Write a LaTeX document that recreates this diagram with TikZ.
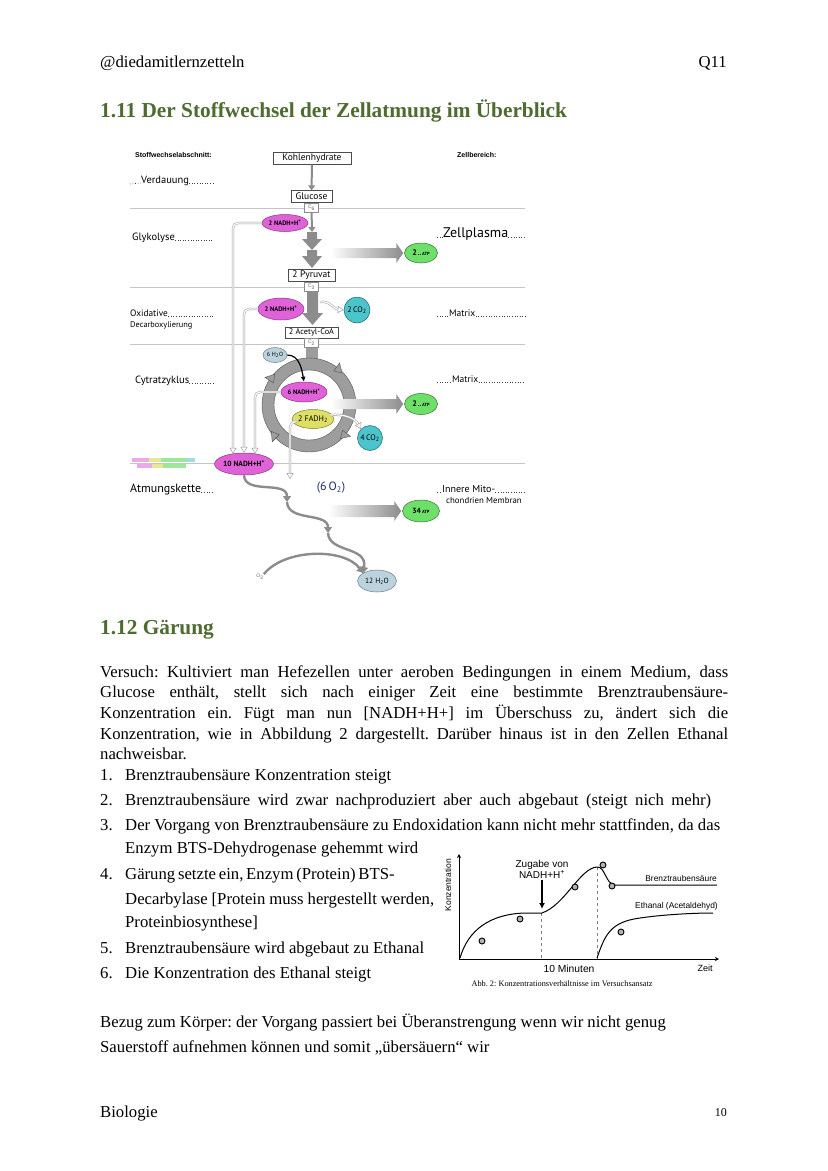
\documentclass[tikz,border=0pt]{standalone}
\usepackage{fontspec}
\setmainfont{Liberation Serif}
\newfontfamily\arialfont{Liberation Sans}
\newfontfamily\handfont{PT Sans}
\usepackage{xcolor}
\usetikzlibrary{positioning, shapes.geometric, arrows.meta, calc}
\definecolor{headgreen}{HTML}{4E6B30}
\definecolor{nadhpink}{HTML}{E062D8}
\definecolor{atpgreen}{HTML}{6EE06A}
\definecolor{cotwo}{HTML}{4CC4CC}
\definecolor{wasser}{HTML}{BBD3DE}
\definecolor{fadhgelb}{HTML}{DDE065}
\definecolor{flowgray}{HTML}{8C8C8C}
\definecolor{sepgray}{HTML}{C4C4C4}
\definecolor{sauerblau}{HTML}{1F2F66}
\frenchspacing

\tikzset{
  body/.style={anchor=base west, inner sep=0pt, font=\fontsize{16.7}{20}\selectfont},
  titel/.style={anchor=base west, inner sep=0pt, text=headgreen, font=\bfseries\fontsize{21.3}{24}\selectfont},
  stoffbox/.style={draw=black!70, fill=white, inner sep=1pt, minimum height=12pt, font=\handfont\fontsize{9.5}{10}\selectfont},
  cbox/.style={draw=black!45, fill=white, inner sep=0pt, minimum width=14pt, minimum height=9pt, font=\arialfont\fontsize{5}{5}\selectfont, text=black!60},
  blob/.style={ellipse, inner sep=0pt, line width=0.5pt, font=\handfont\bfseries\fontsize{6.5}{6.5}\selectfont},
  nadh/.style={blob, fill=nadhpink, draw=nadhpink!60!black},
  atp/.style={blob, fill=atpgreen, draw=atpgreen!50!black},
  cozwei/.style={blob, circle, fill=cotwo, draw=cotwo!50!black, font=\handfont\fontsize{8}{8}\selectfont},
  wasserblob/.style={blob, fill=wasser, draw=wasser!60!black, font=\handfont\fontsize{6}{6}\selectfont},
  abschnitt/.style={anchor=base west, inner sep=0pt, font=\handfont\fontsize{10.5}{11}\selectfont},
  punktlinie/.style={dotted, line width=0.6pt, black!75},
  hollow/.style={draw=flowgray!85, double=white, double distance=1.2pt, line width=0.5pt,
                 rounded corners=5pt, -{Triangle[open, fill=white, line width=0.5pt, length=6pt, width=7pt]}},
  welle/.style={draw=flowgray, line width=2.4pt, -{Triangle[length=6pt, width=8pt]}},
  graphtext/.style={inner sep=0pt, font=\arialfont\fontsize{8.5}{10}\selectfont},
  punkt/.style={circle, draw=black, fill=gray!60, inner sep=0pt, minimum size=6pt, line width=0.9pt}
}

\begin{document}
\begin{tikzpicture}[x=1pt, y=-1pt]
  \useasboundingbox (0,0) rectangle (828,1171);
  \fill[white] (0,0) rectangle (828,1171);

  % Kopfzeile und Titel
  \node[body] (kopf) at (100,67) {@diedamitlernzetteln};
  \node[body, anchor=base east] (kurs) at (727,67) {Q11};
  \node[titel] (titel1) at (100,117) {1.11 Der Stoffwechsel der Zellatmung im Überblick};

  % Schema Zellatmung
  \node[anchor=west, inner sep=0pt, font=\arialfont\bfseries\fontsize{7}{7}\selectfont] (kopfl) at (135,155) {Stoffwechselabschnitt:};
  \node[anchor=west, inner sep=0pt, font=\arialfont\bfseries\fontsize{7}{7}\selectfont] (kopfr) at (457,155) {Zellbereich:};
  \foreach \y in {208,287,344,463}
    \draw[sepgray, line width=0.8pt] (130,\y) -- (525,\y);

  % Randnotiz links
  \fill[nadhpink, opacity=.55] (132,458) rectangle (149,462);
  \fill[fadhgelb, opacity=.7] (149,458) rectangle (161,462);
  \fill[atpgreen, opacity=.7] (161,458) rectangle (187,462);
  \fill[cotwo, opacity=.55] (187,458) rectangle (195,462);
  \fill[nadhpink, opacity=.55] (137,464) rectangle (152,468);
  \fill[fadhgelb, opacity=.7] (152,464) rectangle (163,468);
  \fill[atpgreen, opacity=.7] (163,464) rectangle (186,468);

  % Abschnitte links
  \node[abschnitt] (verd) at (141,183) {Verdauung};
  \node[abschnitt] (glyk) at (132,240) {Glykolyse};
  \node[abschnitt, font=\handfont\fontsize{9.3}{10}\selectfont] (oxid) at (130,316) {Oxidative};
  \node[abschnitt, font=\handfont\fontsize{8.3}{9}\selectfont] (decarb) at (130,327) {Decarboxylierung};
  \node[abschnitt] (cytrat) at (135,383) {Cytratzyklus};
  \node[abschnitt, font=\handfont\fontsize{12}{13}\selectfont] (atmung) at (130,492) {Atmungskette};
  \draw[punktlinie] (130,184) -- (verd.base west);
  \foreach \n in {verd,glyk,oxid,cytrat,atmung}
    \draw[punktlinie] (\n.base east) -- (\n.base east -| 213,0);

  % Bereiche rechts
  \node[abschnitt, font=\handfont\fontsize{14}{15}\selectfont] (plasma) at (443,237) {Zellplasma};
  \node[abschnitt, font=\handfont\fontsize{9.5}{10}\selectfont] (matrix1) at (449,316) {Matrix};
  \node[abschnitt, font=\handfont\fontsize{9.5}{10}\selectfont] (matrix2) at (452,382) {Matrix};
  \node[abschnitt, font=\handfont\fontsize{10}{11}\selectfont] (membran1) at (442,492) {Innere Mito-};
  \node[abschnitt, font=\handfont\fontsize{8.8}{9}\selectfont] (membran2) at (446,503) {chondrien Membran};
  \foreach \n in {plasma,matrix1,matrix2,membran1} {
    \draw[punktlinie] (\n.base west -| 437,0) -- (\n.base west);
    \draw[punktlinie] (\n.base east) -- (\n.base east -| 525,0);
  }

  % Stoffe
  \node[stoffbox, minimum width=78pt] (kohle) at (312,158.5) {Kohlenhydrate};
  \node[stoffbox, minimum width=41pt] (glucose) at (311.5,196.5) {Glucose};
  \node[cbox, below=0pt of glucose] (c6) {C\textsubscript{6}};
  \node[stoffbox, minimum width=47pt] (pyruvat) at (311.5,275.5) {2 Pyruvat};
  \node[cbox, below=0pt of pyruvat] (c3) {C\textsubscript{3}};
  \node[stoffbox, minimum width=53pt, minimum height=11pt, font=\handfont\fontsize{8.3}{9}\selectfont] (acetyl) at (311.5,332.5) {2 Acetyl-CoA};
  \node[cbox, below=0pt of acetyl] (c2) {C\textsubscript{2}};

  % Hauptweg
  \draw[flowgray, line width=2pt, -{Triangle[length=5pt, width=7pt]}] (kohle) -- (glucose);
  \draw[flowgray, line width=2pt, -{Triangle[length=5pt, width=7pt]}] (c6) -- (312,232);
  \fill[flowgray] (307,232) -- (317,232) -- (317,239) -- (322,239) -- (312,250) -- (302,239) -- (307,239) -- cycle;
  \fill[flowgray] (307,250) -- (317,250) -- (317,256) -- (322,256) -- (312,268) -- (302,256) -- (307,256) -- cycle;
  \fill[flowgray] (307,291) -- (318,291) -- (318,313) -- (323,313) -- (312.5,325) -- (302,313) -- (307,313) -- cycle;

  % Zyklus
  \coordinate (zyk) at (309,405);
  \fill[flowgray!85] ($(c2.south)+(-6,0)$) rectangle ($(c2.south)+(6,14)$);
  \fill[flowgray!85, even odd rule] (zyk) circle[radius=47] (zyk) circle[radius=35];
  \draw[flowgray!60!black, line width=0.4pt] (zyk) circle[radius=47] (zyk) circle[radius=35];
  \foreach \t in {47,145,222,316}
    \filldraw[fill=flowgray!85, draw=flowgray!60!black, line width=0.4pt]
      ($(zyk)+(\t-10:42)$) -- ($(zyk)+(\t-10:52)$) -- ($(zyk)+(\t:46)$) -- cycle;

  % ATP-Pfeile
  \node[atp, minimum width=33pt, minimum height=20pt] (atp1) at (421,253) {{\fontsize{8}{8}\selectfont 2}\,..\,{\fontsize{4.5}{5}\selectfont ATP}};
  \node[atp, minimum width=33pt, minimum height=21pt] (atp2) at (421,404) {{\fontsize{8}{8}\selectfont 2}\,..\,{\fontsize{4.5}{5}\selectfont ATP}};
  \node[atp, minimum width=37pt, minimum height=22pt] (atp3) at (421,511) {{\fontsize{7.5}{7.5}\selectfont 34}\,{\fontsize{4.5}{5}\selectfont ATP}};
  \foreach \a/\h in {atp1/5,atp2/5,atp3/6}
    \shade[left color=white, right color=flowgray]
      ($(\a.west)+(-74,-\h)$) -- ($(\a.west)+(-8,-\h)$) -- ($(\a.west)+(-8,-10)$) -- ($(\a.west)+(-1,0)$)
      -- ($(\a.west)+(-8,10)$) -- ($(\a.west)+(-8,\h)$) -- ($(\a.west)+(-74,\h)$) -- cycle;

  % Reduktionsaequivalente
  \node[nadh, minimum width=38pt, minimum height=17pt] (nadh2a) at (285,223) {2 NADH+H\textsuperscript{+}};
  \node[nadh, minimum width=38pt, minimum height=22pt] (nadh2b) at (281,309) {2 NADH+H\textsuperscript{+}};
  \node[nadh, minimum width=38pt, minimum height=20pt] (nadh6) at (304,392) {6 NADH+H\textsuperscript{+}};
  \node[nadh, minimum width=46pt, minimum height=22pt, font=\handfont\bfseries\fontsize{7.5}{7.5}\selectfont] (nadh10) at (244,464) {10 NADH+H\textsuperscript{+}};
  \node[blob, fill=fadhgelb, draw=fadhgelb!55!black, minimum width=40pt, minimum height=19pt, font=\handfont\fontsize{8}{8}\selectfont] (fadh) at (313,419) {2 FADH\textsubscript{2}};
  \node[cozwei, minimum size=26pt] (co2a) at (357,310) {2\,CO\textsubscript{2}};
  \node[cozwei, minimum size=25pt] (co2b) at (370,438) {4\,CO\textsubscript{2}};
  \node[wasserblob, minimum width=24pt, minimum height=15pt] (h2o6) at (275,355) {6 H\textsubscript{2}O};
  \node[wasserblob, minimum width=39pt, minimum height=22pt, font=\handfont\fontsize{7.5}{7.5}\selectfont] (h2o12) at (377,581) {12 H\textsubscript{2}O};
  \node[inner sep=0pt, text=sauerblau, font=\handfont\fontsize{12}{12}\selectfont] (sauer) at (331,488) {(6\,O\textsubscript{2})};
  \node[inner sep=0pt, text=black!60, font=\arialfont\fontsize{5}{5}\selectfont] (o2) at (260,577) {O\textsubscript{2}};

  % Verbindungen
  \coordinate (ende1) at ($(nadh10.north)+(-11,1)$);
  \coordinate (ende2) at ($(nadh10.north)+(0,0)$);
  \coordinate (ende3) at ($(nadh10.north)+(11,1)$);
  \draw[hollow] (nadh2a.west) -| (ende1);
  \draw[hollow] (nadh2b.west) -| (ende2);
  \draw[hollow] (nadh6.west) -| (ende3);
  \coordinate (fadhend) at (290,479);
  \draw[hollow] ($(fadh.west)+(1,3)$) -| (fadhend);
  \draw[hollow, rounded corners=0pt] (320,302) to[out=10, in=175] (co2a.west);
  \draw[hollow, rounded corners=0pt] ($(fadh.east)+(-4,-4)$) to[out=5, in=120] (co2b.north west);
  \draw[black, line width=1.2pt, -{Latex[length=5pt, width=5pt]}] (h2o6.east) to[out=0, in=100] (nadh6.north);

  % Atmungskette
  \coordinate (w1) at (287,502);
  \coordinate (w2) at (328,533);
  \draw[welle] (nadh10.south) .. controls (245,495) and (287,480) .. (w1);
  \draw[welle] (w1) .. controls (288,522) and (328,512) .. (w2);
  \draw[welle] (w2) .. controls (329,553) and (368,546) .. (h2o12.north west);
  \draw[welle] (o2.north east) .. controls (285,548) and (345,548) .. (h2o12.north west);

  % Gaerung
  \node[titel] (titel2) at (100,634) {1.12 Gärung};
  \node[body] (p1) at (100,677) {\makebox[628pt][s]{Versuch: Kultiviert man Hefezellen unter aeroben Bedingungen in einem Medium, dass}};
  \node[body] (p2) at (100,697) {\makebox[628pt][s]{Glucose enthält, stellt sich nach einiger Zeit eine bestimmte Brenztraubensäure-}};
  \node[body] (p3) at (100,718) {\makebox[628pt][s]{Konzentration ein. Fügt man nun [NADH+H+] im Überschuss zu, ändert sich die}};
  \node[body] (p4) at (100,739) {\makebox[628pt][s]{Konzentration, wie in Abbildung 2 dargestellt. Darüber hinaus ist in den Zellen Ethanal}};
  \node[body] (p5) at (100,759) {nachweisbar.};

  \foreach \nr/\y in {1/780,2/805,3/830,4/879,5/953,6/978}
    \node[body] (nr\nr) at (100,\y) {\nr.};
  \node[body] (l1) at (125,780) {\makebox[266pt][s]{Brenztraubensäure Konzentration steigt}};
  \node[body] (l2) at (125,805) {\makebox[586pt][s]{Brenztraubensäure wird zwar nachproduziert aber auch abgebaut (steigt nich mehr)}};
  \node[body] (l3) at (125,830) {\makebox[595pt][s]{Der Vorgang von Brenztraubensäure zu Endoxidation kann nicht mehr stattfinden, da das}};
  \node[body] (l3b) at (125,853) {\makebox[293pt][s]{Enzym BTS-Dehydrogenase gehemmt wird}};
  \node[body] (l4) at (125,879) {\makebox[265pt][s]{Gärung setzte ein, Enzym (Protein) BTS-}};
  \node[body] (l4b) at (125,904) {\makebox[309pt][s]{Decarbylase [Protein muss hergestellt werden,}};
  \node[body] (l4c) at (125,927) {Proteinbiosynthese]};
  \node[body] (l5) at (125,953) {\makebox[299pt][s]{Brenztraubensäure wird abgebaut zu Ethanal}};
  \node[body] (l6) at (125,978) {\makebox[246pt][s]{Die Konzentration des Ethanal steigt}};

  % Abb. 2
  \coordinate (ursprung) at (459,959);
  \coordinate (yende) at (459,854);
  \coordinate (xende) at (719,959);
  \draw[line width=0.6pt, -{Stealth[length=4pt, width=4pt]}] (ursprung) -- (yende);
  \draw[line width=0.6pt, -{Stealth[length=4pt, width=4pt]}] (ursprung) -- (xende);
  \node[graphtext, rotate=90] (konz) at (448,885) {Konzentration};
  \node[graphtext, font=\arialfont\fontsize{10.3}{11}\selectfont] (zehn) at (569,969) {10 Minuten};
  \node[graphtext, font=\arialfont\fontsize{9}{10}\selectfont] (zeit) at (705,968) {Zeit};
  \node[inner sep=0pt, font=\fontsize{8.3}{9}\selectfont] (abb) at (562,984) {Abb. 2: Konzentrationsverhältnisse im Versuchsansatz};
  \node[graphtext, align=center, font=\arialfont\fontsize{10}{11}\selectfont] (zugabe) at (542,869) {Zugabe von\\NADH+H\textsuperscript{+}};
  \coordinate (zugabeend) at (542,909);
  \draw[line width=1.3pt, -{Latex[length=6pt, width=6pt]}] ($(zugabe.south)+(0,2)$) -- (zugabeend);
  \draw[dashed, gray, line width=0.5pt] (541,913) -- (541,959);
  \draw[dashed, gray, line width=0.5pt] (597,867) -- (597,959);
  \draw[line width=1pt] (460,958) .. controls (468,930) and (490,914) .. (525,913) -- (542,913)
    .. controls (565,905) and (580,868) .. (597,867) .. controls (605,866) and (606,885) .. (615,885) -- (717,885);
  \draw[line width=1pt] (597,958) .. controls (605,935) and (610,922) .. (640,918) .. controls (660,915) and (690,913) .. (713,913);
  \node[graphtext, anchor=east, font=\arialfont\fontsize{8.4}{9}\selectfont] (bts) at (717,878) {Brenztraubensäure};
  \node[graphtext, anchor=east, font=\arialfont\fontsize{8.4}{9}\selectfont] (ethanal) at (718,906) {Ethanal (Acetaldehyd)};
  \foreach \x/\y [count=\i] in {482/941,520/919,575/887,603/865,612/886,621/932}
    \node[punkt] (messung\i) at (\x,\y) {};

  % Bezug und Fusszeile
  \node[body] (bezug1) at (100,1027) {Bezug zum Körper: der Vorgang passiert bei Überanstrengung wenn wir nicht genug};
  \node[body] (bezug2) at (100,1052) {Sauerstoff aufnehmen können und somit „übersäuern“ wir};
  \node[body] (fach) at (100,1117) {Biologie};
  \node[body, anchor=base east, font=\fontsize{12}{14}\selectfont] (seite) at (727,1116) {10};
\end{tikzpicture}
\end{document}
